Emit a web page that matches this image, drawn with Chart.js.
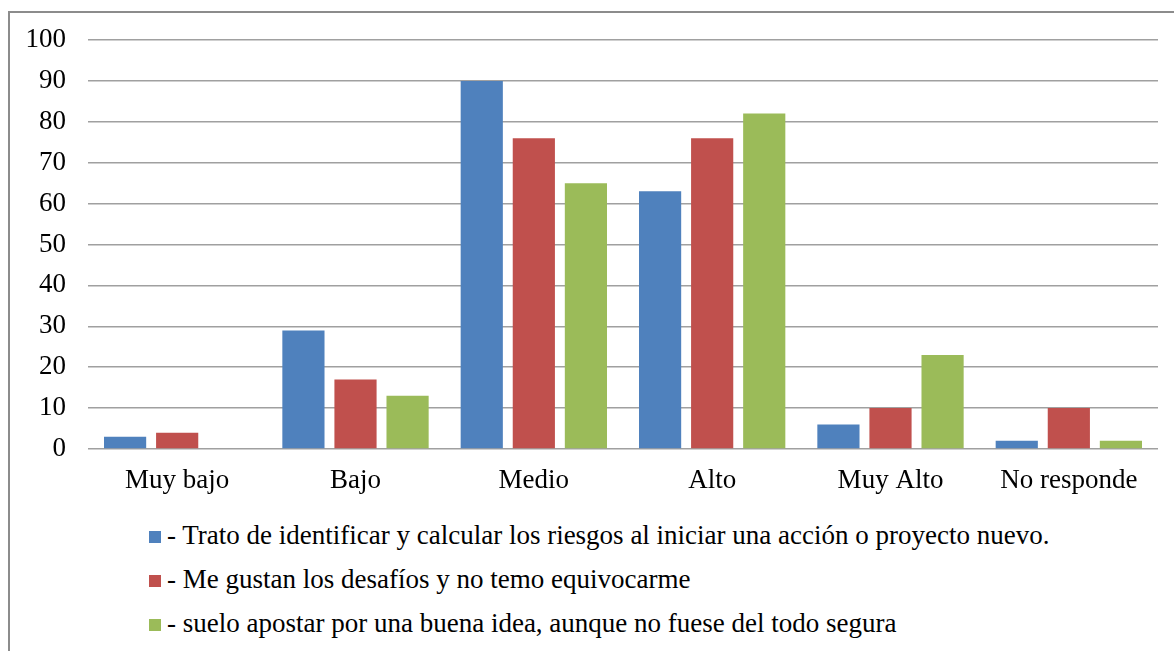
<!DOCTYPE html>
<html>
<head>
<meta charset="utf-8">
<script src="https://cdn.jsdelivr.net/npm/chart.js@4"></script>
<style>
  body { margin: 0; background: #fff; overflow: hidden; }
  #frame { position: absolute; left: 8px; top: 11px; width: 1200px; height: 700px;
           border-left: 2px solid #8c8c8c; border-top: 2px solid #8c8c8c; }
  #wrap { position: absolute; left: 0; top: 0; width: 1174px; height: 500px; }
  #legend { position: absolute; left: 149px; top: 519px; font-family: "Times New Roman", "Liberation Serif", serif;
            font-size: 27px; color: #000; }
  #legend div { height: 44px; line-height: 32px; white-space: nowrap; }
  #legend span.box { display: inline-block; width: 12px; height: 12px; margin-right: 6px; vertical-align: 1px; }
</style>
</head>
<body>
<div id="frame"></div>
<div id="wrap"><canvas id="myChart"></canvas></div>
<div id="legend"></div>
<script>
// categories and values
const categories = ['Muy bajo', 'Bajo', 'Medio', 'Alto', 'Muy Alto', 'No responde'];
const seriesNames = [
  '- Trato de identificar y calcular los riesgos al iniciar una acción o proyecto nuevo.',
  '- Me gustan los desafíos y no temo equivocarme',
  '- suelo apostar por una buena idea, aunque no fuese del todo segura'
];
const riesgos = [3, 29, 90, 63, 6, 2];
const desafios = [4, 17, 76, 76, 10, 10];
const apostar = [0, 13, 65, 82, 23, 2];
const colors = ['#4F81BD', '#C0504D', '#9BBB59'];

const font = { family: '"Times New Roman", "Liberation Serif", serif', size: 27 };

const datasets = [riesgos, desafios, apostar].map(function (vals, i) {
  return {
    label: seriesNames[i],
    data: vals,
    backgroundColor: colors[i],
    borderWidth: 0,
    categoryPercentage: 0.876,
    barPercentage: 0.81
  };
});

new Chart(document.getElementById('myChart'), {
  type: 'bar',
  data: { labels: categories, datasets: datasets },
  options: {
    responsive: true,
    maintainAspectRatio: false,
    animation: false,
    layout: { padding: { top: 40, right: 16, left: 0, bottom: 0 } },
    plugins: { legend: { display: false }, tooltip: { enabled: false } },
    scales: {
      x: {
        grid: { display: false },
        border: { display: false },
        ticks: { color: '#000', font: font, padding: 8 },
        afterFit: function (scale) { scale.height = 51; }
      },
      y: {
        min: 0, max: 100,
        ticks: { stepSize: 10, color: '#000', font: font, padding: 22 },
        grid: { color: '#a0a0a0', lineWidth: 1.5, drawTicks: false },
        border: { display: false },
        afterFit: function (scale) { scale.width = 88; }
      }
    }
  }
});

// legend rows built from the same arrays
const legend = document.getElementById('legend');
seriesNames.forEach(function (name, i) {
  const row = document.createElement('div');
  const box = document.createElement('span');
  box.className = 'box';
  box.style.background = colors[i];
  row.appendChild(box);
  row.appendChild(document.createTextNode(name));
  legend.appendChild(row);
});
</script>
</body>
</html>
